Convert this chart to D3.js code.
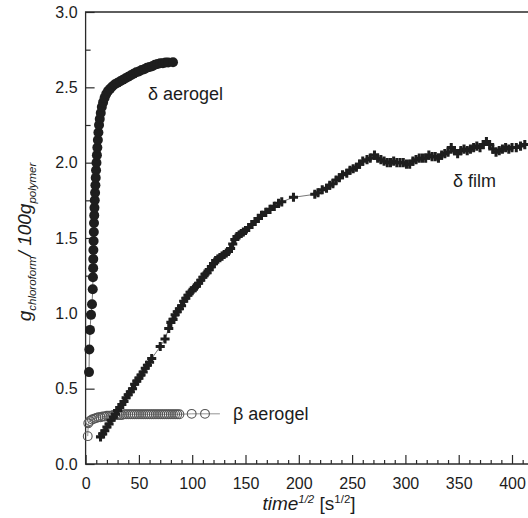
<!doctype html>
<html>
  <head>
    <script src="https://d3js.org/d3.v7.min.js"></script>
    <style>
      body { margin: 0; background: #fff; }
      text { font-family: "Liberation Sans", Arial, sans-serif; fill: #1c1c1c; }
    </style>
  </head>
  <body>
    <script>
      /********** data **********/
      // delta aerogel : filled circles  [time^1/2, g/100g]
      var dAerogel = [
        [3.2,0.61],[3.5,0.76],[4.1,0.89],[5.1,0.99],[6.0,1.06],[6.7,1.16],[6.9,1.24],
        [7.1,1.30],[7.2,1.36],[7.3,1.42],[7.5,1.48],[7.7,1.54],[7.9,1.60],[8.1,1.65],
        [8.3,1.70],[8.6,1.75],[8.9,1.80],[9.2,1.85],[9.5,1.90],[9.8,1.95],[10.2,2.00],
        [10.6,2.05],[11.0,2.10],[11.5,2.15],[12.0,2.20],[12.6,2.25],[13.3,2.29],[14.2,2.33],
        [15.2,2.37],[16.4,2.40],[17.8,2.43],[19.3,2.455],[21,2.475],[23,2.49],[25,2.505],
        [27.5,2.52],[30,2.53],[32.5,2.54],[35,2.55],[37.5,2.56],[40,2.57],[42.5,2.58],
        [45,2.59],[47.5,2.60],[50,2.605],[52.5,2.615],[55,2.62],[57.5,2.63],[60,2.635],
        [62.5,2.64],[65,2.65],[67.5,2.655],[70,2.66],[72.5,2.66],[75,2.665],[77.5,2.665],[82,2.666]
      ];
      // beta aerogel : open circles
      var bAerogel = [
        [2,0.185],[2.5,0.27],[4,0.285],[6,0.295],[8,0.30],[10,0.305],[12,0.31],[14,0.31],
        [16,0.315],[18,0.315],[20,0.32],[22,0.32],[24,0.32],[26,0.325],[28,0.325],[30,0.325],
        [32,0.325],[34,0.325],[36,0.33],[38,0.33],[40,0.33],[42,0.33],[44,0.33],[46,0.33],
        [48,0.33],[50,0.33],[52,0.33],[54,0.33],[56,0.33],[58,0.33],[60,0.33],[62,0.33],
        [64,0.33],[66,0.33],[68,0.33],[70,0.33],[72,0.33],[74,0.33],[76,0.33],[78,0.33],
        [80,0.33],[82,0.33],[84,0.33],[86,0.33],[88,0.33],[99.5,0.333],[112,0.333]
      ];
      var bAerogelTail = [[112,0.333], [126,0.333]];
      // delta film : plus markers
      var dFilm = [
        [14,0.18],[16,0.20],[18,0.22],[20,0.245],[22,0.265],[24,0.29],[26,0.31],[28,0.33],
        [30,0.355],[32,0.375],[34,0.395],[36,0.415],[38,0.44],[40,0.46],[42,0.48],[44,0.50],
        [46,0.53],[48,0.55],[50,0.57],[52,0.59],[54,0.61],[56,0.635],[58,0.655],[60,0.675],
        [62,0.70],[70,0.78],[74.5,0.83],[78,0.90],[80,0.94],[82,0.96],[84,0.99],[86,1.01],
        [88,1.03],[90,1.05],[92,1.08],[94,1.10],[96,1.12],[98,1.14],[100,1.15],[102,1.17],
        [104,1.18],[106,1.20],[108,1.22],[110,1.24],[112,1.26],[114,1.27],[116,1.29],
        [118,1.31],[120,1.33],[122,1.35],[124,1.36],[126,1.37],[128,1.38],[130,1.39],
        [132,1.40],[134,1.41],[136,1.43],[138,1.46],[140,1.49],[142,1.51],[144,1.52],
        [146,1.53],[148,1.54],[150,1.55],[153,1.57],[156,1.59],[159,1.61],[162,1.63],
        [165,1.65],[169,1.67],[173,1.69],[177,1.71],[181,1.73],[184,1.74],[195,1.77],
        [215,1.79],[218,1.80],[222,1.82],[226,1.83],[229,1.85],[232,1.86],[235,1.885],
        [238,1.90],[241,1.92],[245,1.93],[248,1.95],[251,1.96],[254,1.97],[257,1.99],
        [260,2.01],[264,2.02],[267,2.03],[271,2.05],[274,2.03],[277,2.02],[280,2.01],
        [283,2.00],[286,2.00],[289,2.01],[292,2.00],[295,2.00],[298,2.00],[301,1.99],
        [304,1.99],[307,2.01],[310,2.02],[313,2.03],[316,2.03],[319,2.03],[322,2.05],
        [325,2.04],[328,2.04],[331,2.03],[334,2.05],[337,2.06],[340,2.07],[343,2.10],
        [346,2.08],[349,2.06],[352,2.08],[355,2.09],[358,2.08],[361,2.09],[364,2.10],
        [367,2.11],[370,2.10],[373,2.12],[376,2.14],[379,2.12],[382,2.09],[385,2.07],
        [388,2.08],[391,2.09],[394,2.10],[397,2.09],[400,2.10],[404,2.10],[408,2.11],[412,2.12]
      ];
      var xTicks      = [0, 50, 100, 150, 200, 250, 300, 350, 400];
      var yTicks      = [0.0, 0.5, 1.0, 1.5, 2.0, 2.5, 3.0];
      var seriesNames = ["\u03b4 aerogel", "\u03b2 aerogel", "\u03b4 film"];

      /********** layout **********/
      var width = 528, height = 518;
      var plotL = 85.6, plotT = 12, plotB = 464, plotR = 528;

      var x = d3.scaleLinear().domain([0, 415]).range([plotL, plotR]);
      var y = d3.scaleLinear().domain([0, 3]).range([plotB, plotT]);

      var svg = d3.select('body').append('svg')
                  .attr('width', width)
                  .attr('height', height);

      var ink = '#2a2a2a';

      /********** axes (ticks point inward) **********/
      var xMinor = d3.range(0, 415, 10).filter(d => d % 50 !== 0);
      var yMinor = d3.range(0.25, 3, 0.5);

      var gx = svg.append('g').attr('transform', 'translate(0,' + plotB + ')');
      gx.call(d3.axisBottom(x).tickValues(xMinor).tickSize(-4).tickSizeOuter(0).tickFormat(''));
      gx.append('g').call(d3.axisBottom(x).tickValues(xTicks).tickSize(-9).tickSizeOuter(0).tickPadding(14));

      var gy = svg.append('g').attr('transform', 'translate(' + plotL + ',0)');
      gy.call(d3.axisLeft(y).tickValues(yMinor).tickSize(-5).tickSizeOuter(0).tickFormat(''));
      gy.append('g').call(d3.axisLeft(y).tickValues(yTicks).tickSize(-9).tickSizeOuter(0)
                          .tickPadding(8).tickFormat(d3.format('.1f')));

      svg.selectAll('.domain').remove();
      svg.selectAll('.tick line').attr('stroke', ink).attr('stroke-width', 1.2);
      svg.selectAll('.tick text').attr('font-size', 16).attr('fill', '#1c1c1c')
         .attr('font-family', '"Liberation Sans", Arial, sans-serif');

      // frame: left, bottom, top (right side is cut off in the figure)
      svg.append('path')
         .attr('d', 'M' + plotR + ',' + plotT + 'H' + plotL + 'V' + plotB + 'H' + plotR)
         .attr('fill', 'none').attr('stroke', ink).attr('stroke-width', 1.3);

      /********** series **********/
      var line = d3.line().x(d => x(d[0])).y(d => y(d[1]));
      var plots = svg.append('g');

      // beta aerogel
      plots.append('path').datum(bAerogel.concat(bAerogelTail))
           .attr('d', line).attr('fill', 'none').attr('stroke', '#777').attr('stroke-width', 0.8);
      plots.append('g').selectAll('circle').data(bAerogel).enter().append('circle')
           .attr('cx', d => x(d[0])).attr('cy', d => y(d[1])).attr('r', 4.4)
           .attr('fill', 'none').attr('stroke', '#555').attr('stroke-width', 1.1);

      // delta film
      plots.append('path').datum(dFilm)
           .attr('d', line).attr('fill', 'none').attr('stroke', '#555').attr('stroke-width', 0.8);
      var plus = d3.symbol().type(d3.symbolCross).size(46);
      plots.append('g').selectAll('path').data(dFilm).enter().append('path')
           .attr('d', plus)
           .attr('transform', d => 'translate(' + x(d[0]) + ',' + y(d[1]) + ')')
           .attr('fill', '#1e1e1e');

      // delta aerogel
      plots.append('path').datum(dAerogel)
           .attr('d', line).attr('fill', 'none').attr('stroke', '#555').attr('stroke-width', 0.8);
      plots.append('g').selectAll('circle').data(dAerogel).enter().append('circle')
           .attr('cx', d => x(d[0])).attr('cy', d => y(d[1])).attr('r', 5)
           .attr('fill', '#1e1e1e');

      /********** labels **********/
      svg.append('text').attr('x', 148).attr('y', 100).attr('font-size', 18).text(seriesNames[0]);
      svg.append('text').attr('x', 233).attr('y', 420).attr('font-size', 18).text(seriesNames[1]);
      svg.append('text').attr('x', 453).attr('y', 187).attr('font-size', 18).text(seriesNames[2]);

      // x axis title: time^1/2 [s^1/2]
      var xt = svg.append('text').attr('x', 309).attr('y', 510).attr('font-size', 19)
                  .attr('text-anchor', 'middle');
      xt.append('tspan').attr('font-style', 'italic').text('time');
      xt.append('tspan').attr('font-style', 'italic').attr('font-size', 11.5).attr('dy', -7).text('1/2');
      xt.append('tspan').attr('dy', 7).text(' [s');
      xt.append('tspan').attr('font-size', 11.5).attr('dy', -7).text('1/2');
      xt.append('tspan').attr('dy', 7).text(']');

      // y axis title: g_chloroform / 100g_polymer
      var yt = svg.append('text').attr('transform', 'translate(31,242) rotate(-90)')
                  .attr('font-size', 19).attr('font-style', 'italic').attr('text-anchor', 'middle');
      yt.append('tspan').text('g');
      yt.append('tspan').attr('font-size', 11.5).attr('dy', 5).text('chloroform');
      yt.append('tspan').attr('dy', -5).text('/ 100g');
      yt.append('tspan').attr('font-size', 11.5).attr('dy', 5).text('polymer');
    </script>
  </body>
</html>
